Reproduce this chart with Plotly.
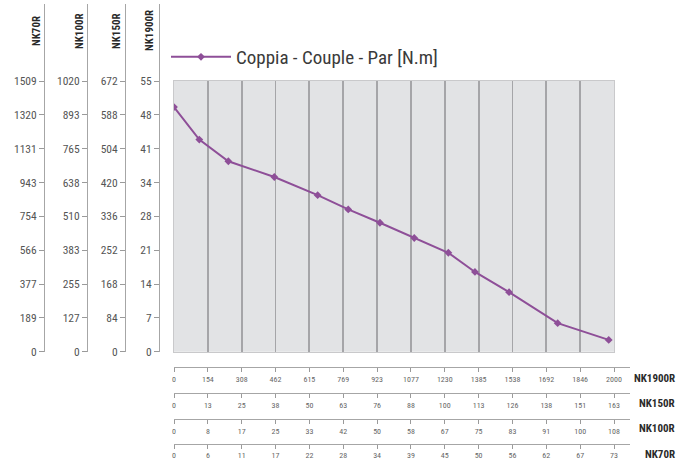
import numpy as np
import plotly.graph_objects as go

# ---------------- data ----------------
speed = [0, 115, 247, 456, 653, 792, 936, 1092, 1247, 1368, 1523, 1744, 1976]
torque = [49.7, 43.1, 38.7, 35.5, 31.8, 28.9, 26.2, 23.1, 20.1, 16.2, 12.1, 5.8, 2.4]
series_name = "Coppia - Couple - Par [N.m]"

left_names = ["NK70R", "NK100R", "NK150R", "NK1900R"]
nk70_y = ["0", "189", "377", "566", "754", "943", "1131", "1320", "1509"]
nk100_y = ["0", "127", "255", "383", "510", "638", "765", "893", "1020"]
nk150_y = ["0", "84", "168", "252", "336", "420", "504", "588", "672"]
nk1900_y = ["0", "7", "14", "21", "28", "34", "41", "48", "55"]
left_labels = [nk70_y, nk100_y, nk150_y, nk1900_y]

bottom_names = ["NK1900R", "NK150R", "NK100R", "NK70R"]
nk1900_x = ["0", "154", "308", "462", "615", "769", "923", "1077", "1230", "1385", "1538", "1692", "1846", "2000"]
nk150_x = ["0", "13", "25", "38", "50", "63", "76", "88", "100", "113", "126", "138", "151", "163"]
nk100_x = ["0", "8", "17", "25", "33", "42", "50", "58", "67", "75", "83", "91", "100", "108"]
nk70_x = ["0", "6", "11", "17", "22", "28", "34", "39", "45", "50", "56", "62", "67", "73"]
bottom_labels = [nk1900_x, nk150_x, nk100_x, nk70_x]

# ---------------- layout geometry (pixels) ----------------
W, H = 679, 463
plot_l, plot_r = 174, 614
plot_top, plot_bot = 81, 351.7
left_top = 4
left_pos = [44, 87, 125, 159]
left_title_x = [37, 80, 117, 150]
bottom_line_y = [367, 393, 419, 443.5]
bottom_title_y = [378, 403, 428, 454]
bottom_right = 630

FONT = "Liberation Sans Narrow, Roboto Condensed, Arial Narrow, Roboto, sans-serif"
PURPLE = "#8e4f98"


def fx(px):
    return px / W


def fy(py):
    return (H - py) / H


fig = go.Figure()

fig.add_trace(go.Scatter(
    x=speed, y=torque, mode="lines+markers", name=series_name,
    line=dict(color=PURPLE, width=2),
    marker=dict(symbol="diamond", size=6, color=PURPLE),
    xaxis="x", yaxis="y", hoverinfo="skip",
))

top_val = float(nk1900_y[-1])
xmax = float(nk1900_x[-1])

layout = dict(
    width=W, height=H, autosize=False,
    margin=dict(l=0, r=0, t=0, b=0, pad=0, autoexpand=False),
    paper_bgcolor="white", plot_bgcolor="white",
    font=dict(family=FONT, color="#555"),
    showlegend=True,
    legend=dict(x=fx(166), y=fy(57), xanchor="left", yanchor="middle",
                font=dict(size=19, color="#3a3a3a", family=FONT),
                itemwidth=60,
                bgcolor="rgba(0,0,0,0)"),
    hovermode=False,
    xaxis=dict(domain=[fx(plot_l), fx(plot_r)], range=[0, xmax],
               tickvals=list(np.linspace(0, xmax, len(nk1900_x))),
               showticklabels=False, ticks="", showgrid=True,
               gridcolor="#a5a5a8", gridwidth=1.8, zeroline=False,
               showline=True, mirror=True, linecolor="#c9c9cb", linewidth=1,
               anchor="y"),
    yaxis=dict(domain=[fy(plot_bot), fy(plot_top)], range=[0, top_val],
               showticklabels=False, ticks="", showgrid=False, zeroline=False,
               showline=True, mirror=True, linecolor="#c9c9cb", linewidth=1,
               anchor="x"),
    shapes=[dict(type="rect", xref="x domain", yref="y domain",
                 x0=0, x1=1, y0=0, y1=1, fillcolor="#e2e3e5",
                 line=dict(width=0), layer="below")],
    annotations=[],
)

# hidden partner axes
layout["xaxis2"] = dict(domain=[0, 0.01], range=[0, 1], visible=False,
                        anchor="y2", showgrid=False, zeroline=False)
layout["yaxis6"] = dict(domain=[0, 0.01], range=[0, 1], visible=False,
                        anchor="x3", showgrid=False, zeroline=False)

# left axes (y2 base, y3..y5 overlaying y2)
ext = (plot_bot - left_top) / (plot_bot - plot_top)
for i, (labels, pos) in enumerate(zip(left_labels, left_pos)):
    n = i + 2
    vmax = float(labels[-1])
    ax = dict(
        range=[0, vmax * ext],
        anchor="free", position=fx(pos), side="left",
        tickvals=list(np.linspace(0, vmax, len(labels))), ticktext=labels,
        ticks="outside", ticklen=5, tickcolor="#9a9a9a", tickwidth=1,
        showline=True, linecolor="#a6a6a6", linewidth=1,
        showgrid=False, zeroline=False, automargin=False,
        tickfont=dict(size=11.5, color="#555", family=FONT),
    )
    if n == 2:
        ax["domain"] = [fy(plot_bot), fy(left_top)]
    else:
        ax["overlaying"] = "y2"
    layout[f"yaxis{n}"] = ax
    fig.add_trace(go.Scatter(x=[None], y=[None], xaxis="x2", yaxis=f"y{n}",
                             showlegend=False, hoverinfo="skip"))
    layout["annotations"].append(dict(
        text=f"<b>{left_names[i]}</b>", xref="paper", yref="paper",
        x=fx(left_title_x[i]), y=fy(31), textangle=-90, showarrow=False,
        xanchor="center", yanchor="middle",
        font=dict(size=11, color="#2a2a2a", family=FONT)))

# bottom axes (x3 base, x4..x6 overlaying x3)
xext = (bottom_right - plot_l) / (plot_r - plot_l)
for i, (labels, ly) in enumerate(zip(bottom_labels, bottom_line_y)):
    n = i + 3
    vmax = float(labels[-1])
    ax = dict(
        range=[0, vmax * xext],
        anchor="free", position=fy(ly), side="bottom",
        tickvals=list(np.linspace(0, vmax, len(labels))), ticktext=labels,
        ticks="outside", ticklen=4, tickcolor="#9a9a9a", tickwidth=1,
        showline=True, linecolor="#a6a6a6", linewidth=1,
        showgrid=False, zeroline=False, automargin=False,
        tickfont=dict(size=8, color="#666", family=FONT),
    )
    if n == 3:
        ax["domain"] = [fx(plot_l), fx(bottom_right)]
    else:
        ax["overlaying"] = "x3"
    layout[f"xaxis{n}"] = ax
    fig.add_trace(go.Scatter(x=[None], y=[None], xaxis=f"x{n}", yaxis="y6",
                             showlegend=False, hoverinfo="skip"))
    layout["annotations"].append(dict(
        text=f"<b>{bottom_names[i]}</b>", xref="paper", yref="paper",
        x=fx(677), y=fy(bottom_title_y[i]), showarrow=False,
        xanchor="right", yanchor="middle",
        font=dict(size=11, color="#2a2a2a", family=FONT)))

fig.update_layout(**layout)
fig.write_html(
    "out.html",
    config={"displayModeBar": False, "staticPlot": True},
    post_script="document.body.style.margin='0';document.body.style.padding='0';"
                "document.body.style.overflow='hidden';",
)
